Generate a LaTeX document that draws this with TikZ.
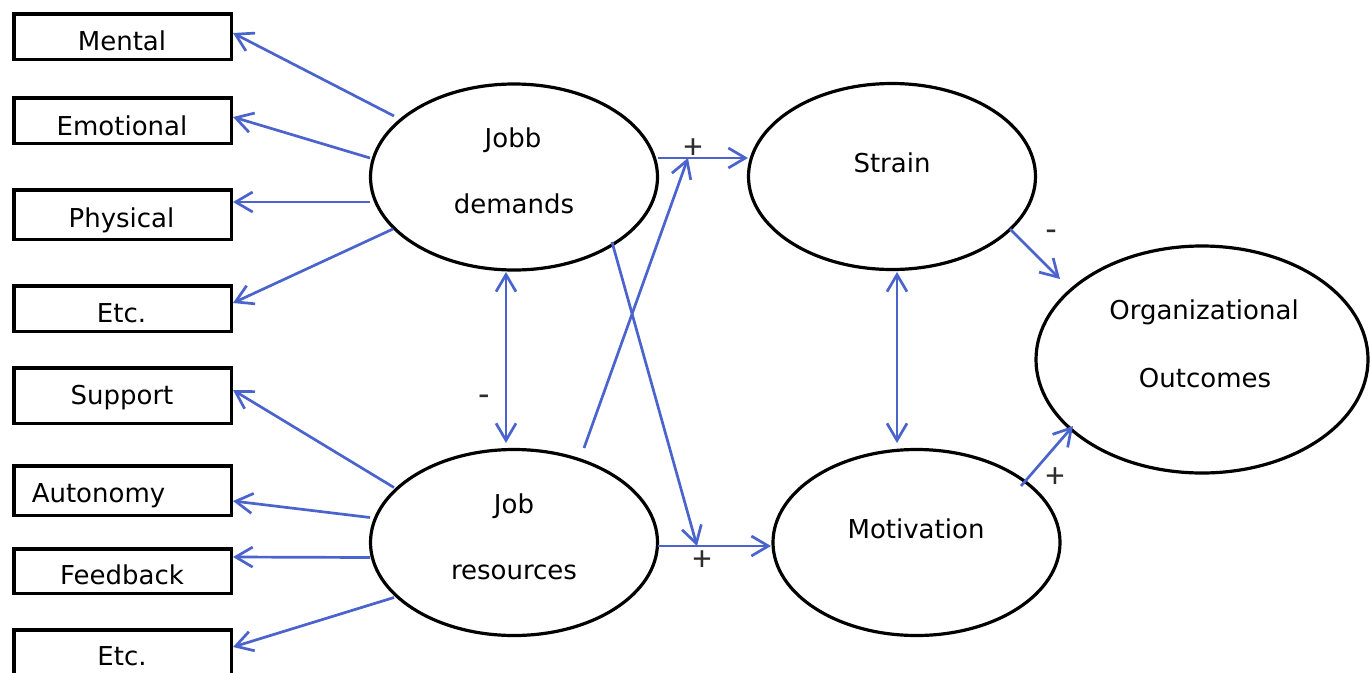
\documentclass[tikz,border=0pt]{standalone}
\usepackage{fontspec}
\setmainfont{DejaVu Sans}
\newfontfamily\signfont{Carlito}
\usetikzlibrary{arrows.meta,shapes.geometric}
\definecolor{arrowblue}{RGB}{75,100,205}
\definecolor{signgray}{RGB}{45,45,45}
\begin{document}
\begin{tikzpicture}[x=1pt,y=-1pt,
  box/.style={draw=black, line width=3.5pt, rectangle, minimum width=217.5pt, inner sep=0pt},
  oval/.style={draw=black, line width=3.2pt, ellipse, minimum width=287pt, minimum height=186pt, inner sep=0pt},
  lbl/.style={anchor=base, font=\fontsize{26}{30}\selectfont, inner sep=0pt},
  sign/.style={font=\signfont\fontsize{36}{40}\selectfont, text=signgray, inner sep=0pt},
  conn/.style={draw=arrowblue, line width=2.7pt, -{Straight Barb[length=17pt,width=20pt]}},
  dconn/.style={draw=arrowblue, line width=2.7pt, {Straight Barb[length=17pt,width=20pt]}-{Straight Barb[length=17pt,width=20pt]}}
]
\useasboundingbox (0,0) rectangle (1370,672);

% left boxes
\node[box, minimum height=45.5pt] (mental) at (122.5,36.5) {};
\node[box, minimum height=45.5pt] (emotional) at (122.5,120.5) {};
\node[box, minimum height=49.5pt] (physical) at (122.5,214.5) {};
\node[box, minimum height=45.5pt] (etc1) at (122.5,308.5) {};
\node[box, minimum height=55.5pt] (support) at (122.5,395.5) {};
\node[box, minimum height=49.5pt] (autonomy) at (122.5,490.5) {};
\node[box, minimum height=44.5pt] (feedback) at (122.5,571) {};
\node[box, minimum height=46.5pt] (etc2) at (122.5,653) {};

\node[lbl] (tmental) at (122,50) {Mental};
\node[lbl] (temotional) at (122,135) {Emotional};
\node[lbl] (tphysical) at (121.5,227) {Physical};
\node[lbl] (tetc1) at (121.5,322) {Etc.};
\node[lbl] (tsupport) at (122,404) {Support};
\node[lbl] (tautonomy) at (98.5,502) {Autonomy};
\node[lbl] (tfeedback) at (122,584) {Feedback};
\node[lbl] (tetc2) at (122,665) {Etc.};

% ellipses
\node[oval] (jd) at (514,177) {};
\node[oval] (jr) at (514,542.5) {};
\node[oval] (strain) at (892,176.5) {};
\node[oval] (mot) at (916.5,542.5) {};
\node[oval, minimum width=332pt, minimum height=227pt] (org) at (1202,359.5) {};

\node[lbl] (tjobb) at (513,147) {Jobb};
\node[lbl] (tdemands) at (514,213) {demands};
\node[lbl] (tjob) at (514,513) {Job};
\node[lbl] (tresources) at (514,579) {resources};
\node[lbl] (tstrain) at (892,172) {Strain};
\node[lbl] (tmot) at (916,538) {Motivation};
\node[lbl] (torg) at (1204,319) {Organizational};
\node[lbl] (tout) at (1205,387) {Outcomes};

% demands -> indicators
\draw[conn] ([shift={(-120,-61)}]jd.center) -- ([shift={(0,-3.5)}]mental.east);
\draw[conn] ([shift={(-144,-19)}]jd.center) -- ([shift={(0,-3.5)}]emotional.east);
\draw[conn] ([shift={(-144,25)}]jd.center) -- ([shift={(0,-12.5)}]physical.east);
\draw[conn] ([shift={(-121,52)}]jd.center) -- ([shift={(0,-5.5)}]etc1.east);

% resources -> indicators
\draw[conn] ([shift={(-120,-55)}]jr.center) -- ([shift={(0,-5.5)}]support.east);
\draw[conn] ([shift={(-144,-25)}]jr.center) -- ([shift={(0,10.5)}]autonomy.east);
\draw[conn] ([shift={(-144,15)}]jr.center) -- ([shift={(0,-14)}]feedback.east);
\draw[conn] ([shift={(-120,55)}]jr.center) -- ([shift={(0,-6)}]etc2.east);

% double arrows
\draw[dconn] ([shift={(-8,95)}]jd.center) -- ([shift={(-8,-99.5)}]jr.center);
\draw[dconn] ([shift={(5,95.5)}]strain.center) -- ([shift={(-19.5,-99.5)}]mot.center);

% main paths
\draw[conn] ([shift={(144,-19)}]jd.center) -- coordinate[pos=0.333] (js) ([shift={(-144,-18.5)}]strain.center);
\draw[conn] ([shift={(144,3.5)}]jr.center) -- coordinate[pos=0.345] (jm) ([shift={(-145.5,3.5)}]mot.center);
\draw[conn] ([shift={(70,-94.5)}]jr.center) -- (js);
\draw[conn] ([shift={(98,65)}]jd.center) -- (jm);
\draw[conn] ([shift={(118,52.5)}]strain.center) -- ([shift={(-142,-80.5)}]org.center);
\draw[conn] ([shift={(104.5,-56.5)}]mot.center) -- ([shift={(-129,66.5)}]org.center);

% signs
\node[sign] (s1) at (693,149) {+};
\node[sign] (s2) at (702,561) {+};
\node[sign] (s3) at (1055,478) {+};
\node[sign, anchor=base] (s4) at (484,406) {-};
\node[sign, anchor=base] (s5) at (1051,241) {-};
\end{tikzpicture}
\end{document}
